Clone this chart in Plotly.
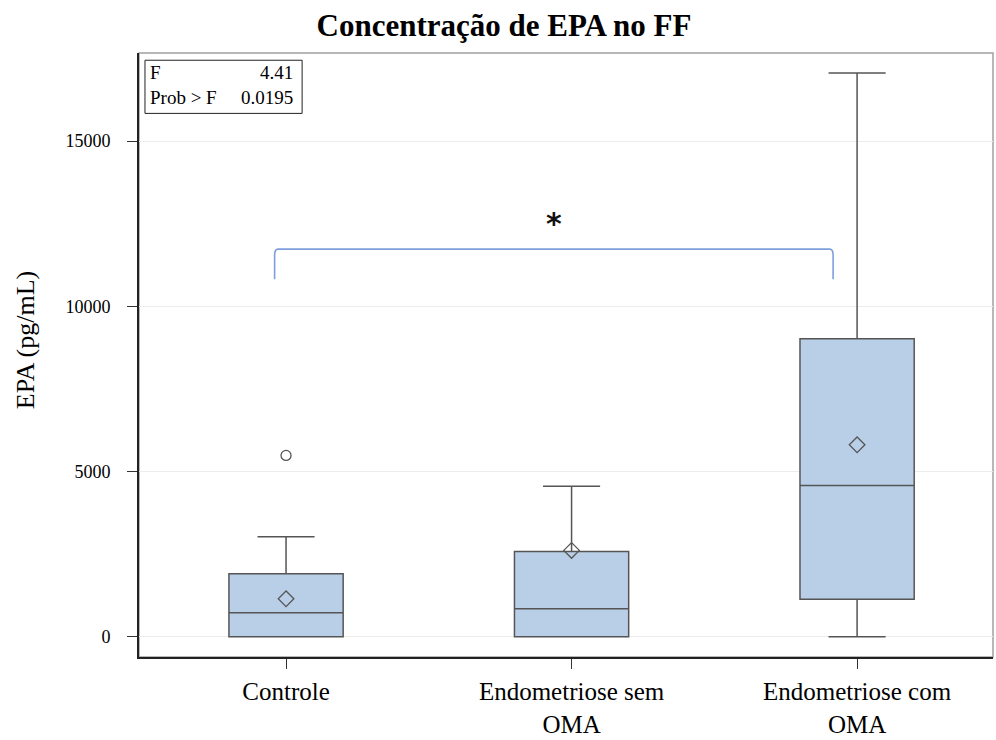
import plotly.graph_objects as go

# ---- data ----
categories = ["Controle", "Endometriose sem<br>OMA", "Endometriose com<br>OMA"]
q1_vals = [0, 0, 1140]
median_vals = [730, 850, 4580]
q3_vals = [1910, 2580, 9020]
lower_whisker = [0, 0, 0]
upper_whisker = [3030, 4555, 17060]
mean_vals = [1150, 2615, 5810]
outlier_cat = [0]
outlier_vals = [5490]
y_ticks = [0, 5000, 10000, 15000]
f_value = "4.41"
p_value = "0.0195"
bracket_x = [-0.04, 1.916]
bracket_y = [10820, 11730]
star_pos = [0.94, 12500]

xpos = list(range(len(categories)))
SERIF = "Liberation Serif, Times New Roman, serif"
BOX_FILL = "#b9cfe7"
LINE = "#555555"

fig = go.Figure()
fig.add_trace(go.Box(
    x=xpos, q1=q1_vals, median=median_vals, q3=q3_vals,
    lowerfence=lower_whisker, upperfence=upper_whisker,
    fillcolor=BOX_FILL, line=dict(color=LINE, width=1.5),
    width=0.4, whiskerwidth=0.5, boxpoints=False, showlegend=False,
))
fig.add_trace(go.Scatter(
    x=xpos, y=mean_vals, mode="markers",
    marker=dict(symbol="diamond-open", size=12, color=LINE, line=dict(width=1.3)),
    showlegend=False,
))
fig.add_trace(go.Scatter(
    x=outlier_cat, y=outlier_vals, mode="markers",
    marker=dict(symbol="circle-open", size=10, color=LINE, line=dict(width=1.3)),
    showlegend=False,
))

# frame (top/right lighter)
fig.add_shape(type="rect", xref="paper", yref="paper", x0=0, x1=1, y0=0, y1=1,
              line=dict(color="#a0a0a0", width=1.5), layer="below")

# significance bracket
bx0, bx1 = bracket_x
by0, by1 = bracket_y
r = 0.012
rv = 180
path = (f"M {bx0},{by0} L {bx0},{by1-rv} Q {bx0},{by1} {bx0+r},{by1} "
        f"L {bx1-r},{by1} Q {bx1},{by1} {bx1},{by1-rv} L {bx1},{by0}")
fig.add_shape(type="path", path=path, xref="x", yref="y",
              line=dict(color="#7f9fdc", width=1.6))
fig.add_annotation(x=star_pos[0], y=star_pos[1], xref="x", yref="y", text="<b>*</b>",
                   showarrow=False, font=dict(family="DejaVu Sans", size=30, color="#111"))

# stats inset
fig.add_shape(type="rect", xref="paper", yref="paper", x0=0.007, x1=0.191, y0=0.9, y1=0.988,
              line=dict(color="#222", width=1), fillcolor="white")
fig.add_annotation(xref="paper", yref="paper", x=0.011, y=0.967, xanchor="left", yanchor="middle",
                   text="F", showarrow=False, font=dict(family=SERIF, size=19, color="black"))
fig.add_annotation(xref="paper", yref="paper", x=0.183, y=0.967, xanchor="right", yanchor="middle",
                   text=f_value, showarrow=False, font=dict(family=SERIF, size=19, color="black"))
fig.add_annotation(xref="paper", yref="paper", x=0.011, y=0.926, xanchor="left", yanchor="middle",
                   text="Prob > F", showarrow=False, font=dict(family=SERIF, size=19, color="black"))
fig.add_annotation(xref="paper", yref="paper", x=0.183, y=0.926, xanchor="right", yanchor="middle",
                   text=p_value, showarrow=False, font=dict(family=SERIF, size=19, color="black"))

# y-axis title as rotated annotation
fig.add_annotation(xref="paper", yref="paper", x=-0.132, y=0.525, xanchor="center", yanchor="middle",
                   text="EPA (pg/mL)", textangle=-90, showarrow=False,
                   font=dict(family=SERIF, size=26, color="black"))

fig.update_layout(
    width=996, height=740,
    margin=dict(l=139, r=3, t=53, b=83, autoexpand=False),
    paper_bgcolor="white", plot_bgcolor="white",
    title=dict(text="<b>Concentração de EPA no FF</b>", x=0.506, xref="container",
               xanchor="center", y=0.966, yref="container", yanchor="middle",
               font=dict(family=SERIF, size=31, color="black")),
    xaxis=dict(range=[-0.515, 2.476], tickvals=xpos, ticktext=categories,
               showgrid=False, zeroline=False, showline=True, linecolor="#222", linewidth=2,
               ticks="outside", ticklen=10, tickcolor="#333", automargin=False,
               ticklabelstandoff=1,
               tickfont=dict(family=SERIF, size=25, color="black")),
    yaxis=dict(range=[-610, 17665], tickvals=y_ticks, ticktext=[str(v) for v in y_ticks],
               showgrid=True, gridcolor="#ececec", gridwidth=1, zeroline=False,
               showline=True, linecolor="#222", linewidth=2, automargin=False,
               ticks="outside", ticklen=10, tickcolor="#333", ticklabelstandoff=13,
               tickfont=dict(family=SERIF, size=18, color="black")),
)

fig.write_html("out.html", config={"displayModeBar": False},
               post_script="document.body.style.margin='0px';document.body.style.overflow='hidden';")
